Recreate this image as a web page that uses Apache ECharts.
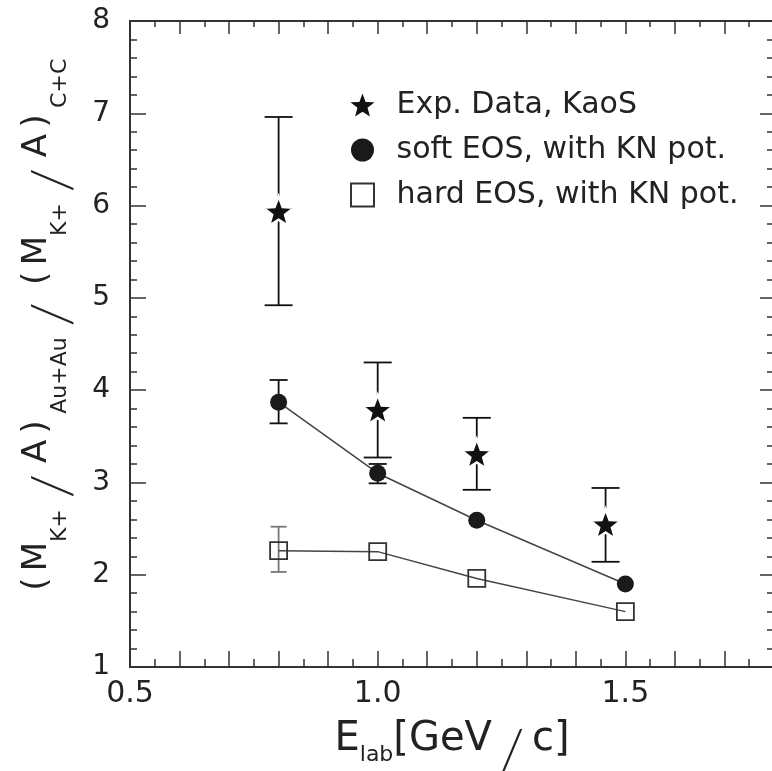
<!DOCTYPE html>
<html>
<head>
<meta charset="utf-8">
<script src="https://cdn.jsdelivr.net/npm/echarts@6/dist/echarts.min.js"></script>
<style>
  html, body { margin: 0; padding: 0; background: #fff; }
  #chart { width: 772px; height: 771px; }
</style>
</head>
<body>
<div id="chart"></div>
<script>
// Beam energies (GeV/c) and the K+ multiplicity ratio Au+Au / C+C
const modelEnergies = [0.8, 1.0, 1.2, 1.5];
const expEnergies = [0.8, 1.0, 1.2, 1.46];

const expRatio = [5.94, 3.79, 3.31, 2.55];
const expLow = [4.92, 3.27, 2.92, 2.14];
const expHigh = [6.96, 4.30, 3.70, 2.94];

const softRatio = [3.87, 3.10, 2.59, 1.90];
const softLow = [3.64, 2.99, null, null];
const softHigh = [4.11, 3.20, null, null];

const hardRatio = [2.26, 2.25, 1.96, 1.60];
const hardLow = [2.03, null, null, null];
const hardHigh = [2.52, null, null, null];

const xTickLabels = ['0.5', '1.0', '1.5'];
const yTickLabels = ['1', '2', '3', '4', '5', '6', '7', '8'];

const seriesNames = ['Exp. Data, KaoS', 'soft EOS, with KN pot.', 'hard EOS, with KN pot.'];

const FONT = 'DejaVu Sans';
const THIN = 'Lato';
const INK = '#222';
const AXIS = '#333';
const STAR = 'path://M0,-10L2.45,-3.4L9.51,-3.09L3.95,1.3L5.88,8.09L0,4.3L-5.88,8.09L-3.95,1.3L-9.51,-3.09L-2.45,-3.4Z';
const SQUARE = 'path://M0,0H10V10H0Z';

function pairs(xs, ys) { return xs.map((x, i) => [x, ys[i]]); }
function bars(xs, lo, hi) {
  const out = [];
  xs.forEach((x, i) => { if (lo[i] != null && hi[i] != null) out.push([x, lo[i], hi[i]]); });
  return out;
}
function errorBar(capHalf, color, width) {
  return function (params, api) {
    const x = api.value(0);
    const a = api.coord([x, api.value(1)]);
    const b = api.coord([x, api.value(2)]);
    const style = { stroke: color, lineWidth: width };
    return {
      type: 'group',
      children: [
        { type: 'line', shape: { x1: a[0], y1: a[1], x2: b[0], y2: b[1] }, style },
        { type: 'line', shape: { x1: a[0] - capHalf, y1: a[1], x2: a[0] + capHalf, y2: a[1] }, style },
        { type: 'line', shape: { x1: b[0] - capHalf, y1: b[1], x2: b[0] + capHalf, y2: b[1] }, style }
      ]
    };
  };
}

function frameAxis(pos, extra) {
  return Object.assign({
    type: 'value',
    position: pos,
    axisLine: { show: true, onZero: false, lineStyle: { color: AXIS, width: 2 } },
    axisTick: { show: true, inside: true, length: 16, lineStyle: { color: AXIS, width: 1.5 } },
    splitLine: { show: false }
  }, extra);
}

const chart = echarts.init(document.getElementById('chart'), null, { renderer: 'canvas' });

chart.setOption({
  animation: false,
  backgroundColor: '#fff',
  grid: { left: 130, top: 21, width: 644, height: 646, outerBoundsMode: 'none', containLabel: false },
  legend: {
    orient: 'vertical', left: 350, top: 90, padding: 0,
    itemGap: 15, itemWidth: 58, itemHeight: 23, selectedMode: false,
    textStyle: { fontSize: 30, fontFamily: FONT, color: INK, lineHeight: 30 },
    data: [
      { name: seriesNames[0], icon: STAR, itemStyle: { color: '#111', borderWidth: 0 } },
      { name: seriesNames[1], icon: 'circle', itemStyle: { color: '#1a1a1a', borderWidth: 0 } },
      { name: seriesNames[2], icon: SQUARE, itemStyle: { color: '#fff', borderColor: '#333', borderWidth: 2 } }
    ]
  },
  xAxis: [
    frameAxis('bottom', {
      min: 0.5, max: 1.8, interval: 0.1,
      minorTick: { show: true, splitNumber: 2, length: 8, lineStyle: { color: AXIS, width: 1.5 } },
      axisLabel: {
        margin: 12, fontSize: 30, fontFamily: FONT, color: INK,
        formatter: v => (xTickLabels.indexOf(v.toFixed(1)) >= 0 ? v.toFixed(1) : '')
      },
      name: '{m|E}{s|lab}{m|[GeV}{sl|/}{m|c]}',
      nameLocation: 'middle', nameGap: 53,
      nameTextStyle: {
        fontFamily: FONT, color: INK,
        rich: {
          m: { fontSize: 40, lineHeight: 40, verticalAlign: 'top', fontFamily: FONT, color: INK },
          s: { fontSize: 22, lineHeight: 22, padding: [24, 0, 0, 0], verticalAlign: 'top', fontFamily: FONT, color: INK },
          sl: { fontSize: 58, lineHeight: 40, width: 40, align: 'center', padding: [2, 0, 0, 0], verticalAlign: 'top', fontFamily: THIN, fontWeight: 300, color: INK }
        }
      }
    }),
    frameAxis('top', {
      min: 0.5, max: 1.8, interval: 0.1,
      axisTick: { show: true, inside: true, length: 13, lineStyle: { color: AXIS, width: 1.5 } },
      minorTick: { show: true, splitNumber: 2, length: 6, lineStyle: { color: AXIS, width: 1.5 } },
      axisLabel: { show: false }
    })
  ],
  yAxis: [
    frameAxis('left', {
      min: 1, max: 8, interval: 1,
      minorTick: { show: true, splitNumber: 5, length: 7, lineStyle: { color: AXIS, width: 1.5 } },
      axisLabel: {
        margin: 20, fontSize: 28, fontFamily: FONT, color: INK,
        formatter: v => (yTickLabels.indexOf(String(v)) >= 0 ? String(v) : '')
      },
      name: '{p|(}{m|M}{s|K+}{sl|/}{m|A}{p|)}{s|Au+Au}{sl|/}{p|(}{m|M}{s|K+}{sl|/}{m|A}{p|)}{s|C+C}',
      nameLocation: 'middle', nameRotate: 90, nameGap: 72,
      nameTextStyle: {
        fontFamily: FONT, color: INK, padding: [0, 0, 0, 32],
        rich: {
          m: { fontSize: 34, lineHeight: 34, verticalAlign: 'top', fontFamily: FONT, color: INK },
          p: { fontSize: 34, lineHeight: 34, width: 26, align: 'center', verticalAlign: 'top', fontFamily: FONT, color: INK },
          s: { fontSize: 22, lineHeight: 22, padding: [29, 0, 0, 0], verticalAlign: 'top', fontFamily: FONT, color: INK },
          sl: { fontSize: 56, lineHeight: 34, width: 46, align: 'center', padding: [5, 0, 0, 0], verticalAlign: 'top', fontFamily: THIN, fontWeight: 300, color: INK }
        }
      }
    }),
    frameAxis('right', {
      min: 1, max: 8, interval: 1,
      axisTick: { show: true, inside: true, length: 14, lineStyle: { color: AXIS, width: 1.5 } },
      minorTick: { show: true, splitNumber: 5, length: 7, lineStyle: { color: AXIS, width: 1.5 } },
      axisLabel: { show: false }
    })
  ],
  series: [
    {
      type: 'custom', name: 'hard-err', clip: false, silent: true,
      renderItem: errorBar(8, '#777', 1.8),
      encode: { x: 0, y: [1, 2] },
      data: bars(modelEnergies, hardLow, hardHigh), z: 2
    },
    {
      type: 'custom', name: 'soft-err', clip: false, silent: true,
      renderItem: errorBar(9, '#111', 1.8),
      encode: { x: 0, y: [1, 2] },
      data: bars(modelEnergies, softLow, softHigh), z: 2
    },
    {
      type: 'custom', name: 'exp-err', clip: false, silent: true,
      renderItem: errorBar(14, '#111', 1.8),
      encode: { x: 0, y: [1, 2] },
      data: bars(expEnergies, expLow, expHigh), z: 2
    },
    {
      type: 'line', name: seriesNames[2],
      data: pairs(modelEnergies, hardRatio),
      symbol: 'rect', symbolSize: 17,
      lineStyle: { color: '#444', width: 1.5 },
      itemStyle: { color: 'rgba(255,255,255,0)', borderColor: '#333', borderWidth: 1.8 },
      z: 3
    },
    {
      type: 'line', name: seriesNames[1],
      data: pairs(modelEnergies, softRatio),
      symbol: 'circle', symbolSize: 17,
      lineStyle: { color: '#444', width: 1.5 },
      itemStyle: { color: '#1a1a1a', borderWidth: 0 },
      z: 3
    },
    {
      type: 'scatter', name: seriesNames[0],
      data: pairs(expEnergies, expRatio),
      symbol: STAR, symbolSize: 31, symbolKeepAspect: true,
      itemStyle: { color: '#111', borderColor: '#fff', borderWidth: 2.5, opacity: 1 },
      z: 4
    }
  ]
});
</script>
</body>
</html>
